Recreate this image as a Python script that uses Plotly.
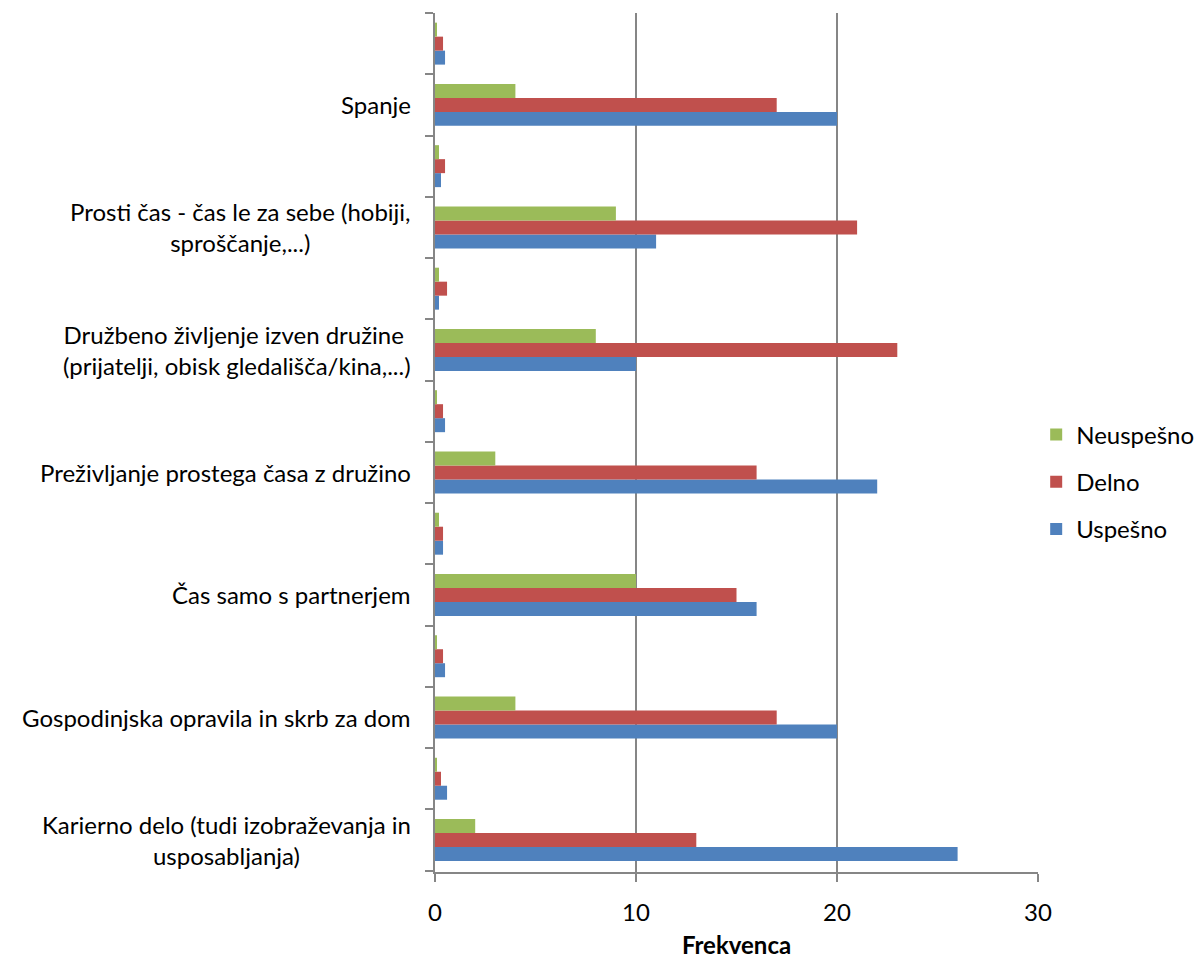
import plotly.graph_objects as go

categories = [
    "Karierno delo (tudi izobraževanja in<br>usposabljanja)",
    "\u200b",
    "Gospodinjska opravila in skrb za dom",
    "\u200b\u200b",
    "Čas samo s partnerjem",
    "\u200b\u200b\u200b",
    "Preživljanje prostega časa z družino",
    "\u200b\u200b\u200b\u200b",
    "Družbeno življenje izven družine <br>(prijatelji, obisk gledališča/kina,...)",
    "\u200b\u200b\u200b\u200b\u200b",
    "Prosti čas - čas le za sebe (hobiji,<br>sproščanje,...)",
    "\u200b\u200b\u200b\u200b\u200b\u200b",
    "Spanje",
    "\u200b\u200b\u200b\u200b\u200b\u200b\u200b",
]
uspesno = [26, 0.6, 20, 0.5, 16, 0.4, 22, 0.5, 10, 0.2, 11, 0.3, 20, 0.5]
delno = [13, 0.3, 17, 0.4, 15, 0.4, 16, 0.4, 23, 0.6, 21, 0.5, 17, 0.4]
neuspesno = [2, 0.1, 4, 0.1, 10, 0.2, 3, 0.1, 8, 0.2, 9, 0.2, 4, 0.1]
series_names = ["Uspešno", "Delno", "Neuspešno"]
x_ticks = [0, 10, 20, 30]

colors = ["#4F81BD", "#C0504D", "#9BBB59"]
legend_ranks = [3, 2, 1]
FONT = "Lato, Carlito, sans-serif"
FS = 24
GRAY = "#868686"

fig = go.Figure()
for name, vals, col, rank in zip(series_names, [uspesno, delno, neuspesno], colors, legend_ranks):
    fig.add_trace(go.Bar(
        y=categories, x=vals, name=name, orientation="h",
        marker=dict(color=col, line=dict(width=0)),
        legendgroup=name, legendrank=rank,
    ))

for cat in categories:
    if cat.strip("\u200b"):
        fig.add_annotation(
            x=0, xref="paper", y=cat, yref="y",
            text=cat, showarrow=False, xanchor="right", yanchor="middle",
            align="center", xshift=-22,
            font=dict(family=FONT, size=FS, color="#000000"),
        )

fig.update_layout(
    width=1198, height=959,
    margin=dict(l=435, r=160, t=13, b=87, autoexpand=False),
    paper_bgcolor="white", plot_bgcolor="white",
    barmode="group", bargap=0.315, bargroupgap=0,
    font=dict(family=FONT, size=FS, color="#000000"),
    showlegend=True,
    legend=dict(
        x=0.997, xanchor="left", y=0.454, yanchor="middle",
        traceorder="grouped", tracegroupgap=13,
        font=dict(family=FONT, size=FS, color="#000000"),
        bgcolor="rgba(0,0,0,0)",
    ),
    xaxis=dict(
        range=[0, 30], tickvals=x_ticks, ticktext=[str(t) for t in x_ticks],
        showgrid=True, gridcolor=GRAY, gridwidth=2,
        showline=True, linecolor=GRAY, linewidth=2,
        ticks="outside", ticklen=8, tickcolor=GRAY, tickwidth=2,
        ticklabelstandoff=10, automargin=False,
        zeroline=False,
        title=dict(text="<b>Frekvenca</b>", font=dict(family=FONT, size=FS), standoff=21),
        tickfont=dict(family=FONT, size=FS),
    ),
    yaxis=dict(
        type="category", categoryorder="array", categoryarray=categories,
        showticklabels=False, automargin=False,
        showline=True, linecolor=GRAY, linewidth=2,
        ticks="outside", ticklen=8, tickcolor=GRAY, tickwidth=2,
        tickson="boundaries", showgrid=False, zeroline=False,
    ),
)

fig.write_html("out.html")
